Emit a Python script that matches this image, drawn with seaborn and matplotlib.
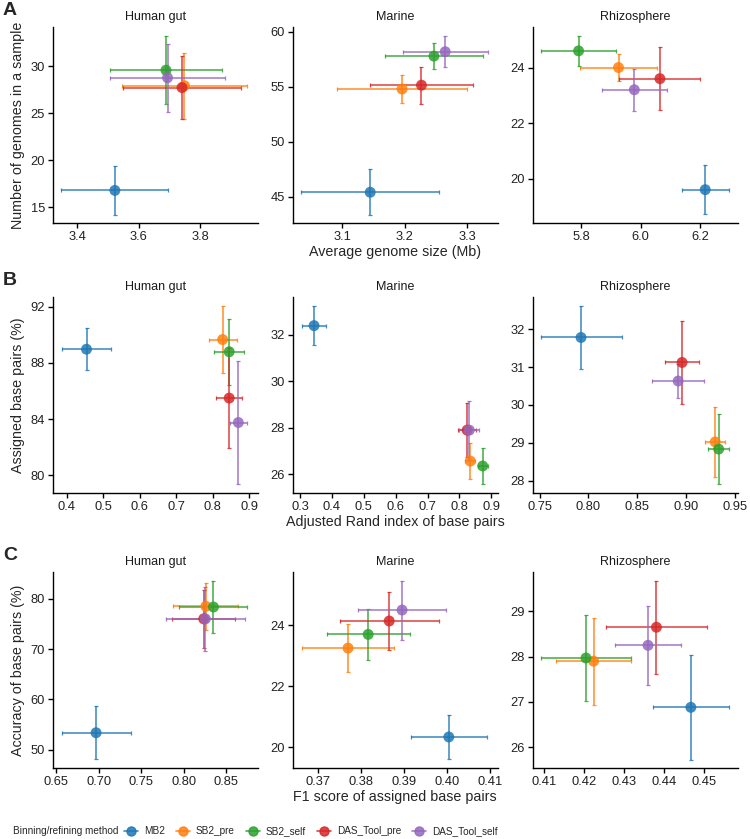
import pandas as pd
import matplotlib
matplotlib.use("Agg")
import matplotlib.pyplot as plt
import seaborn as sns
from matplotlib import font_manager
from matplotlib.lines import Line2D
from matplotlib.ticker import FormatStrFormatter

sns.set_theme(style="ticks")
plt.rcParams["font.family"] = ["Liberation Sans", "DejaVu Sans"]

methods = ["MB2", "SB2_pre", "SB2_self", "DAS_Tool_pre", "DAS_Tool_self"]
colors = ["#1f77b4", "#ff7f0e", "#2ca02c", "#d62728", "#9467bd"]
envs = ["Human gut", "Marine", "Rhizosphere"]

# A: average genome size (Mb) vs number of genomes in a sample
a_gut_x = [3.522, 3.748, 3.688, 3.740, 3.693]
a_gut_xerr = [0.174, 0.204, 0.182, 0.193, 0.186]
a_gut_y = [16.8, 27.95, 29.6, 27.75, 28.8]
a_gut_yerr = [2.6, 3.5, 3.65, 3.35, 3.6]

a_mar_x = [3.145, 3.196, 3.247, 3.227, 3.265]
a_mar_xerr = [0.110, 0.104, 0.078, 0.082, 0.068]
a_mar_y = [45.4, 54.8, 57.8, 55.15, 58.2]
a_mar_yerr = [2.1, 1.27, 1.15, 1.7, 1.4]

a_rhi_x = [6.217, 5.926, 5.792, 6.065, 5.979]
a_rhi_xerr = [0.079, 0.13, 0.125, 0.136, 0.11]
a_rhi_y = [19.6, 24.0, 24.6, 23.6, 23.2]
a_rhi_yerr = [0.88, 0.47, 0.53, 1.13, 0.75]

# B: adjusted Rand index vs assigned base pairs (%)
b_gut_x = [0.4545, 0.827, 0.845, 0.845, 0.870]
b_gut_xerr = [0.068, 0.038, 0.041, 0.036, 0.023]
b_gut_y = [88.98, 89.67, 88.8, 85.5, 83.76]
b_gut_yerr = [1.5, 2.4, 2.35, 3.55, 4.4]

b_mar_x = [0.344, 0.834, 0.873, 0.824, 0.831]
b_mar_xerr = [0.038, 0.015, 0.016, 0.027, 0.031]
b_mar_y = [32.39, 26.57, 26.36, 27.9, 27.9]
b_mar_yerr = [0.83, 0.79, 0.79, 1.16, 1.27]

b_rhi_x = [0.7925, 0.930, 0.9335, 0.896, 0.892]
b_rhi_xerr = [0.0415, 0.0105, 0.011, 0.017, 0.0265]
b_rhi_y = [31.78, 29.02, 28.83, 31.12, 30.63]
b_rhi_yerr = [0.84, 0.93, 0.92, 1.09, 0.44]

# C: F1 score vs accuracy of base pairs (%)
c_gut_x = [0.697, 0.826, 0.835, 0.8235, 0.8255]
c_gut_xerr = [0.0405, 0.038, 0.040, 0.037, 0.046]
c_gut_y = [53.4, 78.5, 78.35, 76.0, 76.0]
c_gut_yerr = [5.3, 4.7, 5.2, 5.8, 6.4]

c_mar_x = [0.4004, 0.3769, 0.3816, 0.3865, 0.3895]
c_mar_xerr = [0.0089, 0.0108, 0.0097, 0.0115, 0.0102]
c_mar_y = [20.33, 23.25, 23.7, 24.14, 24.5]
c_mar_yerr = [0.73, 0.8, 0.83, 0.94, 0.97]

c_rhi_x = [0.4466, 0.4223, 0.4204, 0.438, 0.4359]
c_rhi_xerr = [0.0095, 0.0094, 0.0112, 0.0127, 0.0082]
c_rhi_y = [26.88, 27.9, 27.97, 28.65, 28.25]
c_rhi_yerr = [1.16, 0.96, 0.96, 1.03, 0.87]

# tick values per panel
a_xticks = [[3.4, 3.6, 3.8], [3.1, 3.2, 3.3], [5.8, 6.0, 6.2]]
a_yticks = [[15, 20, 25, 30], [45, 50, 55, 60], [20, 22, 24]]
b_xticks = [[0.4, 0.5, 0.6, 0.7, 0.8, 0.9], [0.3, 0.4, 0.5, 0.6, 0.7, 0.8, 0.9],
            [0.75, 0.80, 0.85, 0.90, 0.95]]
b_yticks = [[80, 84, 88, 92], [26, 28, 30, 32], [28, 29, 30, 31, 32]]
c_xticks = [[0.65, 0.70, 0.75, 0.80, 0.85], [0.37, 0.38, 0.39, 0.40, 0.41],
            [0.41, 0.42, 0.43, 0.44, 0.45]]
c_yticks = [[50, 60, 70, 80], [20, 22, 24], [26, 27, 28, 29]]

a_xlim = [(3.32, 3.986), (3.021, 3.349), (5.638, 6.326)]
a_ylim = [(13.33, 34.2), (42.6, 60.45), (18.4, 25.46)]
b_xlim = [(0.362, 0.923), (0.277, 0.92), (0.743, 0.953)]
b_ylim = [(78.74, 92.7), (25.2, 33.62), (27.67, 32.85)]
c_xlim = [(0.646, 0.887), (0.364, 0.4118), (0.4071, 0.4583)]
c_ylim = [(46.4, 85.3), (19.31, 25.75), (25.54, 29.87)]

rows = [
    ("A", "Average genome size (Mb)", "Number of genomes in a sample",
     [(a_gut_x, a_gut_xerr, a_gut_y, a_gut_yerr),
      (a_mar_x, a_mar_xerr, a_mar_y, a_mar_yerr),
      (a_rhi_x, a_rhi_xerr, a_rhi_y, a_rhi_yerr)],
     a_xticks, a_yticks, a_xlim, a_ylim, ["%.1f", "%.1f", "%.1f"]),
    ("B", "Adjusted Rand index of base pairs", "Assigned base pairs (%)",
     [(b_gut_x, b_gut_xerr, b_gut_y, b_gut_yerr),
      (b_mar_x, b_mar_xerr, b_mar_y, b_mar_yerr),
      (b_rhi_x, b_rhi_xerr, b_rhi_y, b_rhi_yerr)],
     b_xticks, b_yticks, b_xlim, b_ylim, ["%.1f", "%.1f", "%.2f"]),
    ("C", "F1 score of assigned base pairs", "Accuracy of base pairs (%)",
     [(c_gut_x, c_gut_xerr, c_gut_y, c_gut_yerr),
      (c_mar_x, c_mar_xerr, c_mar_y, c_mar_yerr),
      (c_rhi_x, c_rhi_xerr, c_rhi_y, c_rhi_yerr)],
     c_xticks, c_yticks, c_xlim, c_ylim, ["%.2f", "%.2f", "%.2f"]),
]

W, H = 750, 839
fig = plt.figure(figsize=(W / 100, H / 100), dpi=100)

col_left = [52.7, 292.7, 532.7]
col_width = 205
row_top = [27, 297, 572]
row_height = 196

for r, (letter, xlabel, ylabel, panels, xticks, yticks, xlims, ylims, fmts) in enumerate(rows):
    for c, (x, xerr, y, yerr) in enumerate(panels):
        ax = fig.add_axes([col_left[c] / W, 1 - (row_top[r] + row_height) / H,
                           col_width / W, row_height / H])
        df = pd.DataFrame({"x": x, "xerr": xerr, "y": y, "yerr": yerr,
                           "method": methods})
        for i, row in df.iterrows():
            ax.errorbar(row["x"], row["y"], xerr=row["xerr"], yerr=row["yerr"],
                        fmt="none", ecolor=colors[i], elinewidth=1.15,
                        capsize=1.1, capthick=0.9, alpha=0.85, zorder=2)
        sns.scatterplot(data=df, x="x", y="y", hue="method", hue_order=methods,
                        palette=colors, s=62, alpha=0.85, edgecolor="none",
                        legend=False, ax=ax, zorder=3)
        ax.set_xlim(*xlims[c])
        ax.set_ylim(*ylims[c])
        ax.set_xticks(xticks[c])
        ax.set_yticks(yticks[c])
        ax.xaxis.set_major_formatter(FormatStrFormatter(fmts[c]))
        sns.despine(ax=ax)
        for s in ["left", "bottom"]:
            ax.spines[s].set_linewidth(1.0)
            ax.spines[s].set_color("black")
        ax.tick_params(axis="both", length=3.5, width=1.0, color="black",
                       labelsize=9.3, labelcolor="#222222", pad=2)
        ax.set_title(envs[c], fontsize=9, pad=5, color="#1a1a1a")
        ax.set_xlabel(xlabel if c == 1 else "", fontsize=10.3, labelpad=2)
        ax.set_ylabel(ylabel if c == 0 else "", fontsize=10.3, labelpad=4)
    fig.text(3 / W, 1 - (row_top[r] - 25) / H, letter, fontsize=14,
             fontweight="bold", ha="left", va="top")

# legend: the reference uses a condensed face here
installed = {f.name for f in font_manager.fontManager.ttflist}
if "Liberation Sans Narrow" in installed:
    leg_family, leg_size = ["Liberation Sans Narrow", "Liberation Sans"], 8.6
else:
    leg_family, leg_size = ["Liberation Sans", "DejaVu Sans"], 7.2

fig.text(13 / W, 1 - 831 / H, "Binning/refining method", fontsize=leg_size,
         family=leg_family, ha="left", va="center")
handles = [Line2D([0], [0], color=col, marker="o", markersize=6.5, lw=1.2,
                  alpha=0.85) for col in colors]
fig.legend(handles, methods, loc="center left",
           bbox_to_anchor=(124 / W, 1 - 831 / H), ncol=5, frameon=False,
           prop={"family": leg_family, "size": leg_size},
           handlelength=1.4, handletextpad=0.6,
           columnspacing=1.1, borderaxespad=0, borderpad=0)

fig.savefig("out.png", dpi=100)
